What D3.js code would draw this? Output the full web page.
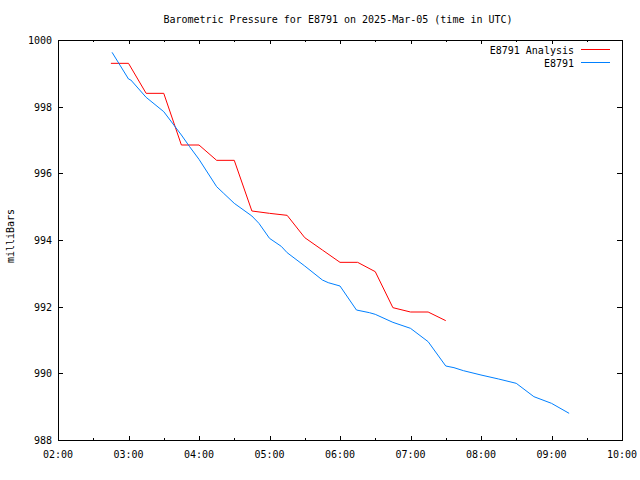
<!DOCTYPE html>
<html>
<head>
<meta charset="utf-8">
<script src="https://cdn.jsdelivr.net/npm/d3@7"></script>
<style>
html,body{margin:0;padding:0;background:#fff;}
text{font-family:"DejaVu Sans Mono",monospace;font-size:10px;fill:#000;}
</style>
</head>
<body>
<svg id="chart" width="640" height="480"></svg>
<script>
const analysisTimes = ["02:45","03:00","03:15","03:30","03:45","04:00","04:15","04:30","04:45","05:00","05:15","05:30","05:45","06:00","06:15","06:30","06:45","07:00","07:15","07:30"];
const analysisValues = [999.3,999.3,998.4,998.4,996.85,996.85,996.39,996.39,994.87,994.8,994.74,994.07,993.7,993.33,993.33,993.05,991.97,991.84,991.84,991.58];

const obsTimes = ["02:46","03:00","03:02","03:15","03:30","03:45","03:52","04:00","04:15","04:21","04:30","04:45","04:51","05:00","05:10","05:15","05:30","05:45","05:50","06:00","06:14","06:25","06:30","06:45","07:00","07:15","07:30","07:37","07:45","08:00","08:15","08:30","08:45","09:00","09:15"];
const obsValues = [999.63,998.83,998.8,998.28,997.85,997.15,996.8,996.42,995.6,995.4,995.1,994.72,994.5,994.05,993.81,993.62,993.22,992.8,992.72,992.62,991.9,991.82,991.77,991.53,991.35,990.95,990.22,990.17,990.08,989.95,989.83,989.7,989.3,989.1,988.8];

const xTickLabels = ["02:00","03:00","04:00","05:00","06:00","07:00","08:00","09:00","10:00"];
const yTicks = [988,990,992,994,996,998,1000];

const title = "Barometric Pressure for E8791 on 2025-Mar-05 (time in UTC)";
const yLabel = "milliBars";
const seriesNames = ["E8791 Analysis","E8791"];
const seriesColors = ["#ff0000","#0080ff"];

const parse = s => { const [h,m] = s.split(":").map(Number); return new Date(Date.UTC(2025,2,5,h,m)); };

const svg = d3.select("#chart");
const L = 58, R = 622, T = 40, B = 440;

const x = d3.scaleUtc().domain([parse("02:00"), parse("10:00")]).range([L, R]);
const y = d3.scaleLinear().domain([988, 1000]).range([B, T]);

// frame
svg.append("rect").attr("x", L + 0.5).attr("y", T + 0.5).attr("width", R - L).attr("height", B - T)
  .attr("fill", "none").attr("stroke", "#000").attr("stroke-width", 1);

// x ticks
const majorX = xTickLabels.map(parse);
const minorX = d3.utcMinute.every(30).range(parse("02:00"), parse("10:00")).filter(d => d.getUTCMinutes() === 30);
const tickG = svg.append("g").attr("stroke", "#000").attr("stroke-width", 1);
majorX.slice(1, -1).forEach(d => {
  const px = Math.round(x(d)) + 0.5;
  tickG.append("line").attr("x1", px).attr("x2", px).attr("y1", B).attr("y2", B - 4);
  tickG.append("line").attr("x1", px).attr("x2", px).attr("y1", T).attr("y2", T + 4);
});
minorX.forEach(d => {
  const px = Math.round(x(d)) + 0.5;
  tickG.append("line").attr("x1", px).attr("x2", px).attr("y1", B).attr("y2", B - 2);
  tickG.append("line").attr("x1", px).attr("x2", px).attr("y1", T).attr("y2", T + 2);
});
yTicks.slice(1, -1).forEach(v => {
  const py = Math.round(y(v)) + 0.5;
  tickG.append("line").attr("x1", L).attr("x2", L + 5).attr("y1", py).attr("y2", py);
  tickG.append("line").attr("x1", R).attr("x2", R - 5).attr("y1", py).attr("y2", py);
});

// x labels
svg.append("g").selectAll("text").data(majorX).join("text")
  .attr("x", d => x(d)).attr("y", 458).attr("text-anchor", "middle")
  .text(d => d3.utcFormat("%H:%M")(d));

// y labels
svg.append("g").selectAll("text").data(yTicks).join("text")
  .attr("x", 52).attr("y", d => y(d) + 4).attr("text-anchor", "end")
  .text(d => d);

// title
svg.append("text").attr("x", 338).attr("y", 23).attr("text-anchor", "middle").text(title);

// y label
svg.append("text").attr("transform", "translate(14,236) rotate(-90)").attr("text-anchor", "middle").text(yLabel);

// lines
const line = d3.line().x(d => x(d[0])).y(d => y(d[1]));
const analysisData = analysisTimes.map((t, i) => [parse(t), analysisValues[i]]);
const obsData = obsTimes.map((t, i) => [parse(t), obsValues[i]]);
svg.append("path").datum(analysisData).attr("d", line).attr("fill", "none").attr("stroke", seriesColors[0]).attr("stroke-width", 1);
svg.append("path").datum(obsData).attr("d", line).attr("fill", "none").attr("stroke", seriesColors[1]).attr("stroke-width", 1);

// legend
seriesNames.forEach((n, i) => {
  const ly = 49.5 + i * 13;
  svg.append("text").attr("x", 574).attr("y", ly + 4).attr("text-anchor", "end").text(n);
  svg.append("line").attr("x1", 581).attr("x2", 610).attr("y1", ly).attr("y2", ly)
    .attr("stroke", seriesColors[i]).attr("stroke-width", 1);
});
</script>
</body>
</html>
